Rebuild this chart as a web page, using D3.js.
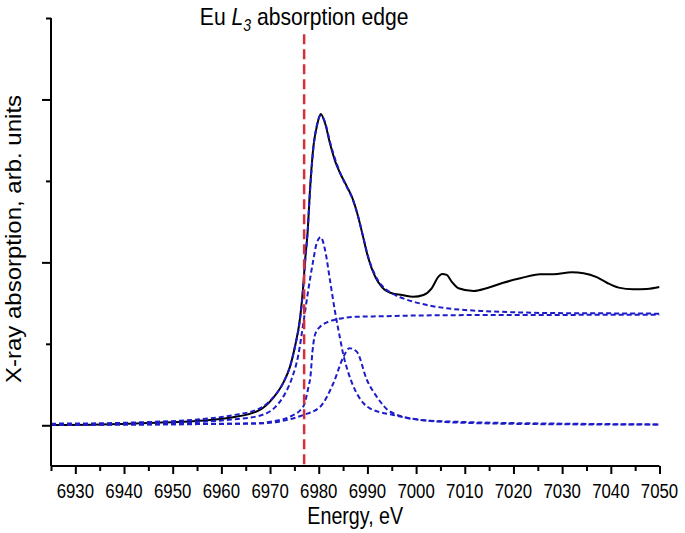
<!DOCTYPE html>
<html>
<head>
<meta charset="utf-8">
<script src="https://cdn.jsdelivr.net/npm/d3@7"></script>
<style>
  body { margin: 0; background: #fff; }
  svg { display: block; font-family: "Liberation Sans", Arial, sans-serif; }
</style>
</head>
<body>
<svg id="svg" width="685" height="533"></svg>
<script>
// measured spectrum (energy eV, absorption)
const expE = [6925, 6935, 6945, 6955.6, 6962.4, 6967.9, 6970.6, 6972.7, 6974.1, 6975.1, 6976.2, 6976.8, 6977.2, 6977.7, 6978.2, 6978.9, 6979.65, 6980.4, 6981.3, 6982.3, 6983.4, 6984.4, 6985.8, 6986.8, 6988.1, 6989.1, 6990.1, 6991.6, 6992.9, 6995.0, 6997.1, 6999.4, 7001.5, 7003.2, 7004.6, 7005.3, 7006.3, 7007.3, 7008.7, 7011.8, 7014.5, 7017.9, 7021.4, 7025.5, 7028.2, 7032.0, 7034.4, 7037.1, 7039.2, 7041.6, 7044.6, 7047.4, 7050];
const expA = [0.002, 0.005, 0.014, 0.028, 0.049, 0.094, 0.166, 0.26, 0.36, 0.48, 0.667, 0.85, 1.015, 1.18, 1.444, 1.71, 1.84, 1.91, 1.854, 1.731, 1.618, 1.547, 1.465, 1.403, 1.28, 1.158, 1.035, 0.912, 0.851, 0.81, 0.80, 0.789, 0.80, 0.841, 0.912, 0.929, 0.923, 0.882, 0.841, 0.824, 0.841, 0.875, 0.902, 0.927, 0.927, 0.939, 0.933, 0.909, 0.875, 0.845, 0.835, 0.837, 0.849];

// fit: total
const fitE = [6925, 6935, 6945, 6955, 6962, 6968, 6970.6, 6972.7, 6974.1, 6975.1, 6976.2, 6976.8, 6977.2, 6977.7, 6978.2, 6978.9, 6979.6, 6980.4, 6981.3, 6982.3, 6983.4, 6984.4, 6985.8, 6986.8, 6988.1, 6989.1, 6990.1, 6991.6, 6992.9, 6995.0, 6996.7, 6999.4, 7002.9, 7006.3, 7013.1, 7019.9, 7026.8, 7033.7, 7050];
const fitA = [0.01, 0.012, 0.02, 0.035, 0.06, 0.105, 0.17, 0.26, 0.36, 0.48, 0.66, 0.84, 1.0, 1.18, 1.43, 1.70, 1.84, 1.90, 1.86, 1.74, 1.63, 1.55, 1.46, 1.40, 1.28, 1.16, 1.04, 0.92, 0.86, 0.81, 0.786, 0.759, 0.734, 0.718, 0.702, 0.694, 0.689, 0.688, 0.685];

// fit: arctan step
const stepE = [6925, 6955.6, 6967.9, 6970, 6974.1, 6976.8, 6977.9, 6978.3, 6978.7, 6979.1, 6979.6, 6980.3, 6982.0, 6983.7, 6988.5, 6992.6, 7000.8, 7017.3, 7050];
const stepA = [0.003, 0.008, 0.012, 0.022, 0.053, 0.114, 0.237, 0.30, 0.45, 0.54, 0.58, 0.605, 0.636, 0.651, 0.667, 0.669, 0.674, 0.677, 0.678];

// fit: Lorentzian 1
const lor1E = [6925, 6945, 6955, 6962, 6968, 6971, 6973, 6974.5, 6975.8, 6976.8, 6977.8, 6978.8, 6979.6, 6980.4, 6981.3, 6982.3, 6983.4, 6984.4, 6985.0, 6986.0, 6987.1, 6989.2, 6990.5, 6995.3, 7000.8, 7010, 7030, 7050];
const lor1A = [0.005, 0.012, 0.02, 0.035, 0.06, 0.11, 0.19, 0.29, 0.43, 0.62, 0.82, 1.0, 1.12, 1.155, 1.076, 0.892, 0.688, 0.53, 0.44, 0.33, 0.24, 0.135, 0.104, 0.063, 0.033, 0.02, 0.01, 0.005];

// fit: Lorentzian 2
const lor2E = [6925, 6950, 6967.9, 6976.8, 6980.3, 6983.0, 6985.1, 6986.3, 6987.8, 6989.9, 6991.9, 6994.7, 7000.8, 7010, 7030, 7050];
const lor2A = [0.003, 0.006, 0.012, 0.063, 0.114, 0.258, 0.421, 0.473, 0.452, 0.278, 0.176, 0.083, 0.033, 0.015, 0.006, 0.004];

const edgeEnergy = 6977;
const xTicks = d3.range(6925, 7051, 5);
const xLabels = d3.range(6930, 7051, 10);
const yTicks = [0, 0.5, 1, 1.5, 2, 2.5];

const svg = d3.select('#svg');
const margin = {top: 18, right: 26, bottom: 67, left: 51};
const W = 685, H = 533;

const x = d3.scaleLinear().domain([6925, 7050]).range([margin.left, W - margin.right + 0.5]);
const y = d3.scaleLinear().domain([-0.25, 2.5]).range([H - margin.bottom, margin.top]);

svg.append('clipPath').attr('id', 'clip')
  .append('rect')
  .attr('x', margin.left).attr('y', margin.top)
  .attr('width', x(7050) - margin.left).attr('height', y(-0.25) - margin.top);

const plot = svg.append('g').attr('clip-path', 'url(#clip)');

const line = d3.line()
  .x(d => x(d[0]))
  .y(d => y(d[1]))
  .curve(d3.curveMonotoneX);

const zip = (a, b) => a.map((v, i) => [v, b[i]]);

// red edge marker
svg.append('line')
  .attr('x1', x(edgeEnergy)).attr('x2', x(edgeEnergy))
  .attr('y1', y(2.4)).attr('y2', y(-0.25))
  .attr('stroke', '#d4303a')
  .attr('stroke-width', 2.5)
  .attr('stroke-dasharray', '10,5');

plot.append('path')
  .attr('d', line(zip(expE, expA)))
  .attr('fill', 'none')
  .attr('stroke', '#000')
  .attr('stroke-width', 2);

[[stepE, stepA], [lor1E, lor1A], [lor2E, lor2A], [fitE, fitA]].forEach(([e, a]) => {
  plot.append('path')
    .attr('d', line(zip(e, a)))
    .attr('fill', 'none')
    .attr('stroke', '#1c1cc8')
    .attr('stroke-width', 2)
    .attr('stroke-dasharray', '5,3');
});

// axes
const xAxis = svg.append('g')
  .attr('transform', 'translate(0,' + y(-0.25) + ')')
  .call(d3.axisBottom(x).tickValues(xTicks).tickSize(5).tickFormat(''));
xAxis.selectAll('.tick line')
  .attr('y2', d => d % 10 === 0 ? 8 : 5);
xAxis.select('.domain').attr('d', 'M' + margin.left + ',0H' + x(7050));

// condensed labels, as in the original
xAxis.selectAll('.lbl')
  .data(xLabels).enter().append('text')
  .attr('transform', d => 'translate(' + x(d) + ',32) scale(0.8,1)')
  .attr('text-anchor', 'middle')
  .attr('fill', '#000')
  .style('font-size', '21px')
  .text(d => d);

const yAxis = svg.append('g')
  .attr('transform', 'translate(' + margin.left + ',0)')
  .call(d3.axisLeft(y).tickValues(yTicks).tickSize(5).tickFormat(''));
yAxis.selectAll('.tick line')
  .attr('x2', d => Number.isInteger(d) ? -9 : -5);
yAxis.select('.domain').attr('d', 'M0,' + y(2.5) + 'V' + y(-0.25));

svg.selectAll('.domain, .tick line')
  .attr('stroke', '#000')
  .attr('stroke-width', 2);

// labels
svg.append('text')
  .attr('transform', 'translate(' + x(6987.5) + ',524) scale(0.82,1)')
  .attr('text-anchor', 'middle')
  .style('font-size', '24px')
  .text('Energy, eV');

svg.append('text')
  .attr('transform', 'translate(21,239) rotate(-90) scale(1,0.9)')
  .attr('text-anchor', 'middle')
  .style('font-size', '24px')
  .text('X-ray absorption, arb. units');

const title = svg.append('text')
  .attr('transform', 'translate(' + x(edgeEnergy) + ',25) scale(0.88,1)')
  .attr('text-anchor', 'middle')
  .style('font-size', '24px');
title.append('tspan').text('Eu ');
title.append('tspan').style('font-style', 'italic').text('L');
title.append('tspan').style('font-style', 'italic').style('font-size', '16px').attr('dy', 6).text('3');
title.append('tspan').attr('dy', -6).text(' absorption edge');
</script>
</body>
</html>
